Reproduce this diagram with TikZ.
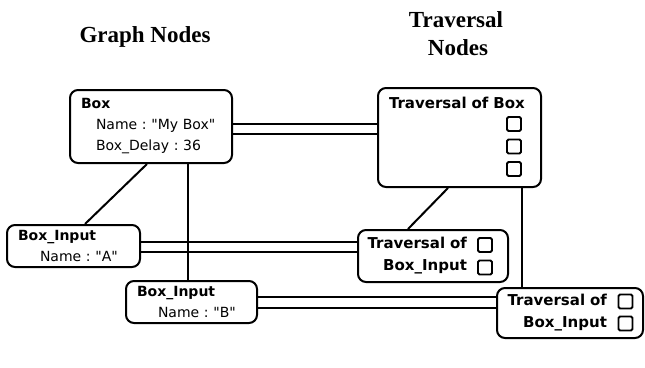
\documentclass[tikz,border=0pt]{standalone}
\usepackage{fontspec}
\setmainfont{DejaVu Sans}
\newfontfamily\titlefont{Liberation Serif}
\frenchspacing
\begin{document}
\begin{tikzpicture}[x=1pt,y=-1pt,line width=2pt,
  gnode/.style={draw,rounded corners=8pt,align=left,inner xsep=11pt,inner ysep=0pt,
    font=\fontsize{14}{21}\selectfont},
  tnode/.style={draw,rounded corners=8pt,align=right,inner xsep=8pt,inner ysep=0pt,
    font=\fontsize{15}{22}\selectfont\bfseries},
  slot/.style={draw,rounded corners=1.5pt,minimum width=14pt,minimum height=14pt,
    inner sep=0pt,line width=1.8pt},
  heading/.style={font=\titlefont\bfseries\fontsize{23}{28}\selectfont,anchor=base}]
  \useasboundingbox (0,0) rectangle (645,367);

  % Column headings
  \node[heading] (gtitle) at (145,42) {Graph Nodes};
  \node[heading] (ttitle) at (456,27) {Traversal};
  \node[heading] (ttitle2) at (458,55) {Nodes};

  % Graph nodes
  \node[gnode,text width=140pt,minimum height=73pt] (box) at (151,126.5)
    {\textbf{Box}\\\hspace*{15pt}Name : \textquotedbl My Box\textquotedbl\\\hspace*{15pt}Box\_Delay : 36};
  \node[gnode,text width=111pt,minimum height=42pt] (inA) at (73.5,246)
    {\textbf{Box\_Input}\\\hspace*{22pt}Name : \textquotedbl A\textquotedbl};
  \node[gnode,text width=109pt,minimum height=42pt] (inB) at (191.5,302)
    {\textbf{Box\_Input}\\\hspace*{21pt}Name : \textquotedbl B\textquotedbl};

  % Traversal nodes
  \node[draw,rounded corners=8pt,align=left,text width=141pt,inner xsep=11pt,inner ysep=0pt,
    text height=20pt,text depth=79pt,font=\fontsize{15}{21}\selectfont\bfseries]
    (tbox) at (459.5,137.5) {Traversal of Box};
  \node[tnode,text width=134pt,minimum height=52pt] (trA) at (433,256)
    {Traversal of\rule{33pt}{0pt}\\Box\_Input\rule{33pt}{0pt}};
  \node[tnode,text width=130pt,minimum height=50pt] (trB) at (570,313)
    {Traversal of\rule{28pt}{0pt}\\Box\_Input\rule{28pt}{0pt}};

  % Slots
  \foreach \y [count=\i] in {124,146.5,169}
    \node[slot] (tslot\i) at (514,\y) {};
  \foreach \y [count=\i] in {245,267.5}
    \node[slot] (aslot\i) at (485,\y) {};
  \foreach \y [count=\i] in {301.5,323.5}
    \node[slot] (bslot\i) at (625.5,\y) {};

  % Graph node <-> traversal node
  \draw ([yshift=3pt]box.east) -- ([yshift=3pt]box.east -| tbox.west);
  \draw ([yshift=-7pt]box.east) -- ([yshift=-7pt]box.east -| tbox.west);
  \draw ([yshift=4pt]inA.east) -- ([yshift=4pt]inA.east -| trA.west);
  \draw ([yshift=-6pt]inA.east) -- ([yshift=-6pt]inA.east -| trA.west);
  \draw ([yshift=5pt]inB.east) -- ([yshift=5pt]inB.east -| trB.west);
  \draw ([yshift=-6pt]inB.east) -- ([yshift=-6pt]inB.east -| trB.west);

  % Parent -> child
  \draw ([xshift=-4pt]box.south) -- ([xshift=11.5pt]inA.north);
  \draw ([xshift=37pt]box.south) -- ([xshift=37pt]box.south |- inB.north);
  \draw ([xshift=-11.5pt]tbox.south) -- ([xshift=-25pt]trA.north);
  \draw ([xshift=62.5pt]tbox.south) -- ([xshift=62.5pt]tbox.south |- trB.north);
\end{tikzpicture}
\end{document}
